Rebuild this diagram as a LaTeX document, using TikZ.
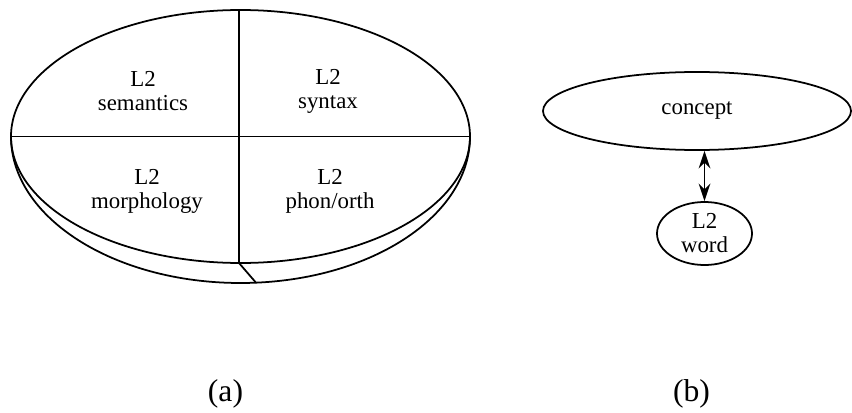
\documentclass[tikz,border=0pt]{standalone}
\usepackage{fontspec}
\setmainfont{Liberation Serif}
\usepackage{tikz}
\usetikzlibrary{positioning, arrows.meta, shapes.geometric}

\begin{document}
\begin{tikzpicture}[
    x=0.03cm, y=0.03cm,
    part/.style={align=center, inner sep=0pt, font=\fontsize{19.5}{20.5}\selectfont},
    bubble/.style={draw, ellipse, inner sep=0pt, line width=1.5pt, align=center, font=\fontsize{19.5}{20.5}\selectfont},
    rimline/.style={line width=1.5pt},
    caption/.style={inner sep=0pt, font=\fontsize{27}{30}\selectfont},
]
\useasboundingbox (0,0) rectangle (852,412);

% (a) the disc
\coordinate (top) at (240.5,275.5);
\draw[rimline] (top) ellipse (229.5 and 126.5);
\draw[rimline] (top) ++(-229.5,0) arc (180:360:229.5 and 146.5);
\coordinate (w) at (11,275.5);
\coordinate (e) at (470,275.5);
\coordinate (n) at (239,402);
\coordinate (s) at (239,149);
\coordinate (cut) at (256,129.3);
\draw[rimline] (w) -- (e);
\draw[rimline] (n) -- (s) -- (cut);

\node[part] (sem) at (143,321) {L2\\semantics};
\node[part] (syn) at (328,321) {L2\\syntax};
\node[part] (mor) at (147,221) {L2\\morphology};
\node[part] (pho) at (330,221) {L2\\phon/orth};

% (b) concept and word
\node[bubble, minimum width=9.24cm, minimum height=2.34cm] (concept) at (697,301) {concept};
\node[bubble, minimum width=2.85cm, minimum height=1.89cm] (word) at (704.5,178.5) {L2\\word};
\draw[{Stealth[length=15pt,width=10pt]}-{Stealth[length=15pt,width=10pt]}, line width=1.5pt] (concept.south -| word.north) -- (word.north);

\node[caption] (capa) at (225.5,18) {(a)};
\node[caption] (capb) at (691.5,18) {(b)};
\end{tikzpicture}
\end{document}
